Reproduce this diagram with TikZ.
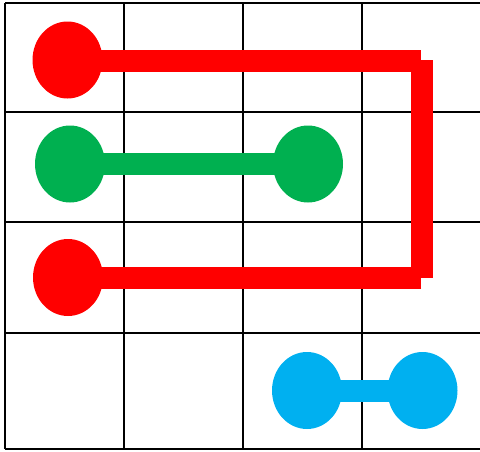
\documentclass[tikz,border=0pt]{standalone}
\usetikzlibrary{shapes.geometric,backgrounds}
\definecolor{dotred}{HTML}{FF0000}
\definecolor{dotgreen}{HTML}{00B050}
\definecolor{dotblue}{HTML}{00B0F0}
\tikzset{
  gridline/.style={black, line width=1.5pt},
  dot/.style={ellipse, minimum width=70pt, minimum height=77pt, inner sep=0pt, draw=none, fill=#1},
  pipe/.style={line width=22pt, line cap=butt, #1}
}
\begin{document}
\begin{tikzpicture}[x=1pt, y=-1pt]
  \useasboundingbox (0,0) rectangle (480,451);

  % dots
  \node[dot=dotred] (r1) at (67.5,60) {};
  \node[dot=dotred] (r2) at (68,277.5) {};
  \node[dot=dotgreen] (g1) at (70,164) {};
  \node[dot=dotgreen] (g2) at (308,164) {};
  \node[dot=dotblue] (b1) at (307,390.5) {};
  \node[dot=dotblue] (b2) at (422.5,390.5) {};

  % corner points of the red path
  \coordinate (rt) at (421,61);
  \coordinate (rb) at (421,278);
  \coordinate (vt) at (421.5,60);
  \coordinate (vb) at (421.5,278);

  \begin{pgfonlayer}{background}
    % grid
    \foreach \gx in {5,124,243,362} \draw[gridline] (\gx,3) -- (\gx,449);
    \foreach \gy in {3,112,222,333,449} \draw[gridline] (5,\gy) -- (481,\gy);
    % connectors
    \draw[pipe=dotred] (r1.center |- rt) -- (rt);
    \draw[pipe=dotred] (vt) -- (vb);
    \draw[pipe=dotred] (rb) -- (r2.center |- rb);
    \draw[pipe=dotgreen] (g1.center) -- (g2.center);
    \draw[pipe=dotblue] (b1.center) -- (b2.center);
  \end{pgfonlayer}
\end{tikzpicture}
\end{document}
